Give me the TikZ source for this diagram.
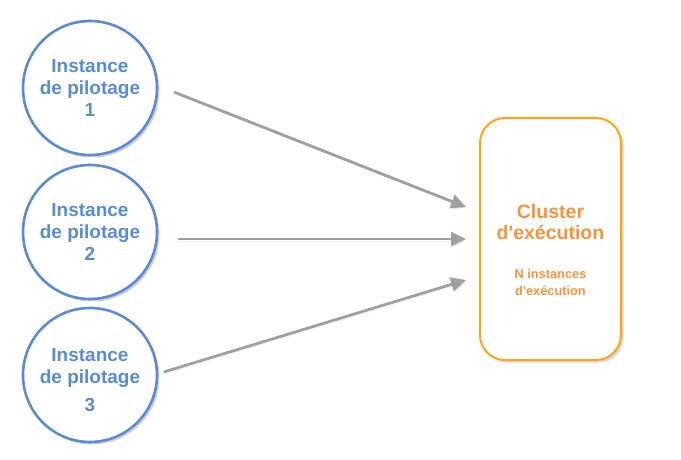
\documentclass[tikz,border=0pt]{standalone}
\usepackage{fontspec}
\setmainfont{Liberation Sans}
\usetikzlibrary{shadows,arrows.meta}

\begin{document}
\begin{tikzpicture}[x=1pt,y=-1pt]
    \definecolor{pilotBlue}{RGB}{88,140,214}
    \definecolor{clusterOrange}{RGB}{255,163,20}
    \definecolor{clusterText}{RGB}{245,148,60}
    \definecolor{arrowGray}{RGB}{160,160,160}

    \tikzset{
        pilot/.style={circle, draw=pilotBlue, line width=2.6pt, fill=white,
            minimum size=134pt, inner sep=0pt, align=center, text=pilotBlue,
            font=\fontsize{19}{22}\selectfont\bfseries,
            drop shadow={shadow xshift=2.5pt, shadow yshift=-2.5pt, opacity=0.35}},
        pilottext/.style={align=center, text=pilotBlue,
            font=\fontsize{19}{22}\selectfont\bfseries},
        clusterbox/.style={rectangle, rounded corners=25pt, draw=clusterOrange,
            line width=2pt, fill=white, minimum width=141pt, minimum height=242pt,
            drop shadow={shadow xshift=2.5pt, shadow yshift=-2.5pt, opacity=0.3}},
        flow/.style={draw=arrowGray, line width=2.8pt,
            -{Triangle[length=15pt,width=14pt]},
            preaction={draw=black, opacity=0.08,
                transform canvas={xshift=1.5pt,yshift=-2pt}}}
    }

    \useasboundingbox (0,0) rectangle (681,460);

    % pilot instances
    \node[pilot] (pilot1) at (90,88) {Instance\\de pilotage\\1};
    \node[pilot] (pilot2) at (90,232) {Instance\\de pilotage\\2};
    \node[pilot] (pilot3) at (90,375) {};
    \node[pilottext] (pilot3text) at (90,380) {Instance\\de pilotage\\[6pt]3};

    % cluster
    \node[clusterbox] (cluster) at (550.5,239) {};
    \node[align=center, text=clusterText, font=\fontsize{19.5}{21}\selectfont\bfseries]
        (clusterTitle) at (550.5,222) {Cluster\\d\textquotesingle exécution};
    \node[align=center, text=clusterText, font=\fontsize{12.8}{17}\selectfont\bfseries]
        (clusterSub) at (550.5,282) {N instances\\d\textquotesingle exécution};

    % arrows
    \draw[flow] ([xshift=15.5pt,yshift=-4pt]pilot1.east) -- ([xshift=-13pt,yshift=32pt]cluster.west);
    \draw[flow] ([xshift=19.5pt,yshift=-7pt]pilot2.east) -- ([xshift=-13pt]cluster.west);
    \draw[flow] ([xshift=5.5pt,yshift=3pt]pilot3.east) -- ([xshift=-13pt,yshift=-41pt]cluster.west);
\end{tikzpicture}
\end{document}
